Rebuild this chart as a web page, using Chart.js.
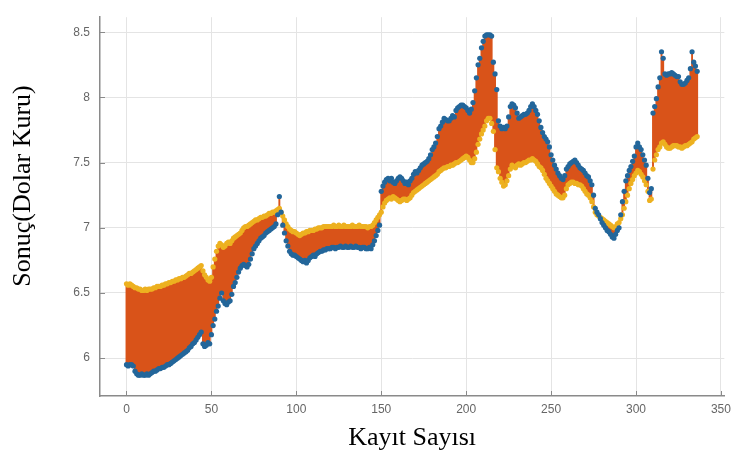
<!DOCTYPE html>
<html>
<head>
<meta charset="utf-8">
<script src="https://cdn.jsdelivr.net/npm/chart.js@4/dist/chart.umd.min.js"></script>
<style>
  html, body { margin: 0; padding: 0; background: #ffffff; }
  #wrap { width: 737px; height: 463px; }
</style>
</head>
<body>
<div id="wrap"><canvas id="c" width="737" height="463"></canvas></div>
<script>
// Actual values (blue markers), record 0..336
const actual = [
  5.95, 5.94, 5.95, 5.95, 5.94,
  5.90, 5.88, 5.87, 5.87, 5.88, 5.87, 5.87, 5.88, 5.87, 5.88,
  5.89, 5.90, 5.90, 5.91, 5.92, 5.92, 5.93, 5.93, 5.94, 5.95,
  5.95, 5.96, 5.97, 5.98, 5.99, 6.00, 6.01, 6.02, 6.03, 6.04,
  6.05, 6.06, 6.08, 6.09, 6.11, 6.12, 6.14, 6.16, 6.18, 6.20,
  6.11, 6.09, 6.10, 6.12, 6.11,
  6.18, 6.25, 6.30, 6.36, 6.40, 6.46, 6.50, 6.44, 6.42, 6.41,
  6.43, 6.44, 6.49, 6.55, 6.58, 6.62, 6.66, 6.69, 6.71, 6.72,
  6.71, 6.70, 6.72, 6.76, 6.80, 6.84, 6.86, 6.88, 6.90, 6.92,
  6.93, 6.94, 6.96, 6.97, 6.98, 6.99, 7.00, 7.01, 7.03, 7.10,
  7.24, 7.12, 7.02, 6.96, 6.90, 6.86, 6.82, 6.80, 6.79, 6.79,
  6.78, 6.77, 6.76, 6.75, 6.74, 6.75, 6.73, 6.75, 6.77, 6.78,
  6.79, 6.78, 6.80, 6.81, 6.82, 6.82, 6.83, 6.83, 6.84, 6.84,
  6.84, 6.85, 6.85, 6.84, 6.85, 6.85, 6.86, 6.85, 6.85, 6.86,
  6.85, 6.85, 6.86, 6.85, 6.85, 6.86, 6.85, 6.85, 6.84, 6.85,
  6.85, 6.84, 6.84, 6.85, 6.84, 6.87, 6.90, 6.94, 6.98, 7.02,
  7.28, 7.32, 7.35, 7.37, 7.38, 7.36, 7.38, 7.35, 7.34, 7.36,
  7.38, 7.39, 7.38, 7.36, 7.34, 7.35, 7.33, 7.36, 7.38, 7.41,
  7.43, 7.42, 7.44, 7.46, 7.48, 7.49, 7.50, 7.51, 7.53, 7.56,
  7.60, 7.62, 7.65, 7.70, 7.76, 7.78, 7.81, 7.84, 7.83, 7.82,
  7.82, 7.84, 7.86, 7.85, 7.90, 7.92, 7.93, 7.94, 7.94, 7.93,
  7.92, 7.90, 7.88, 7.91, 7.96, 8.05, 8.15, 8.25, 8.30, 8.38,
  8.43, 8.47, 8.48, 8.48, 8.48, 8.47, 8.27, 8.18, 8.06, 7.82,
  7.78, 7.76, 7.77, 7.76, 7.78, 7.85, 7.93, 7.95, 7.94, 7.92,
  7.88, 7.84, 7.85, 7.86, 7.87, 7.87, 7.88, 7.90, 7.93, 7.95,
  7.93, 7.90, 7.87, 7.82, 7.77, 7.73, 7.70, 7.68, 7.66, 7.62,
  7.56, 7.52, 7.48, 7.45, 7.42, 7.40, 7.38, 7.37, 7.40, 7.45,
  7.47, 7.49, 7.50, 7.51, 7.52, 7.50, 7.48, 7.46, 7.45, 7.44,
  7.42, 7.40, 7.39, 7.36, 7.33, 7.25, 7.15, 7.12, 7.10, 7.07,
  7.04, 7.02, 7.00, 6.98, 6.97, 6.95, 6.93, 6.92, 6.95, 6.98,
  7.00, 7.10, 7.20, 7.28, 7.36, 7.40, 7.44, 7.47, 7.51, 7.55,
  7.62, 7.65, 7.62, 7.60, 7.56, 7.52, 7.48, 7.38, 7.27, 7.30,
  7.88, 7.93, 7.99, 8.08, 8.15, 8.35, 8.30, 8.18, 8.17, 8.18,
  8.18, 8.19, 8.18, 8.17, 8.16, 8.16, 8.12, 8.10, 8.10, 8.11,
  8.13, 8.15, 8.22, 8.35, 8.27, 8.24, 8.20
];

// Predicted values (yellow markers), record 0..336
const predicted = [
  6.57, 6.56, 6.57, 6.56, 6.55,
  6.54, 6.54, 6.53, 6.53, 6.52, 6.52, 6.53, 6.52, 6.53, 6.53,
  6.53, 6.54, 6.54, 6.55, 6.55, 6.55, 6.56, 6.56, 6.57, 6.57,
  6.58, 6.58, 6.59, 6.59, 6.60, 6.60, 6.61, 6.61, 6.62, 6.62,
  6.63, 6.64, 6.65, 6.65, 6.66, 6.67, 6.68, 6.69, 6.70, 6.71,
  6.67, 6.64, 6.62, 6.60, 6.59,
  6.62, 6.70, 6.76, 6.82, 6.86, 6.88, 6.87, 6.85, 6.86, 6.88,
  6.89, 6.88, 6.90, 6.92, 6.93, 6.94, 6.95, 6.96, 6.98, 7.00,
  7.01, 7.01, 7.02, 7.03, 7.04, 7.05, 7.06, 7.06, 7.07, 7.08,
  7.08, 7.09, 7.09, 7.10, 7.11, 7.11, 7.12, 7.12, 7.13, 7.14,
  7.15, 7.12, 7.09, 7.06, 7.03, 7.01, 6.99, 6.98, 6.97, 6.97,
  6.96, 6.95, 6.94, 6.95, 6.96, 6.96, 6.97, 6.97, 6.98, 6.98,
  6.98, 6.99, 6.99, 7.00, 7.00, 7.00, 7.01, 7.01, 7.01, 7.01,
  7.01, 7.01, 7.02, 7.01, 7.01, 7.02, 7.01, 7.01, 7.02, 7.01,
  7.01, 7.01, 7.01, 7.02, 7.01, 7.01, 7.01, 7.02, 7.01, 7.01,
  7.01, 7.01, 7.00, 7.01, 7.01, 7.02, 7.04, 7.06, 7.08, 7.10,
  7.12, 7.16, 7.19, 7.21, 7.22, 7.23, 7.22, 7.24, 7.23, 7.22,
  7.21, 7.20, 7.21, 7.22, 7.22, 7.21, 7.22, 7.23, 7.25, 7.27,
  7.28, 7.29, 7.30, 7.31, 7.32, 7.33, 7.34, 7.35, 7.36, 7.37,
  7.38, 7.39, 7.40, 7.41, 7.43, 7.44, 7.45, 7.46, 7.46, 7.47,
  7.47, 7.48, 7.48, 7.49, 7.50, 7.50, 7.51, 7.52, 7.53, 7.54,
  7.55, 7.54, 7.52, 7.50, 7.50, 7.53, 7.58, 7.64, 7.68, 7.72,
  7.75, 7.78, 7.82, 7.84, 7.84, 7.80, 7.74, 7.60, 7.46, 7.43,
  7.38, 7.35, 7.32, 7.33, 7.36, 7.40, 7.45, 7.48, 7.47, 7.46,
  7.48, 7.49, 7.48, 7.49, 7.50, 7.50, 7.51, 7.52, 7.52, 7.53,
  7.52, 7.51, 7.49, 7.47, 7.46, 7.44, 7.41, 7.38, 7.36, 7.34,
  7.32, 7.30, 7.28, 7.26, 7.25, 7.24, 7.23, 7.23, 7.25, 7.30,
  7.33, 7.34, 7.35, 7.35, 7.34, 7.34, 7.33, 7.33, 7.32, 7.30,
  7.28, 7.26, 7.25, 7.23, 7.20, 7.16, 7.12, 7.10, 7.09, 7.08,
  7.07, 7.06, 7.05, 7.04, 7.03, 7.02, 7.01, 7.00, 7.01, 7.03,
  7.04, 7.07, 7.10, 7.15, 7.20, 7.25, 7.30, 7.34, 7.37, 7.40,
  7.42, 7.44, 7.43, 7.41, 7.39, 7.36, 7.33, 7.28, 7.21, 7.22,
  7.45, 7.52, 7.56, 7.60, 7.62, 7.65, 7.66, 7.64, 7.62, 7.61,
  7.61, 7.62, 7.63, 7.63, 7.63, 7.62, 7.62, 7.61, 7.62, 7.63,
  7.63, 7.64, 7.65, 7.66, 7.68, 7.69, 7.70
];

const xTickValues = [0, 50, 100, 150, 200, 250, 300, 350];
const yTickValues = [6, 6.5, 7, 7.5, 8, 8.5];
const xTitle = 'Kayıt Sayısı';
const yTitle = 'Sonuç(Dolar Kuru)';

// Build datasets from the arrays
const actualPts = actual.map((v, i) => ({ x: i, y: v }));
const predictedPts = predicted.map((v, i) => ({ x: i, y: v }));
const errorSegments = [];
actual.forEach((v, i) => {
  errorSegments.push({ x: i, y: v }, { x: i, y: predicted[i] }, { x: i, y: null });
});

const tickFont = { family: 'Liberation Sans, Arial, sans-serif', size: 12 };
const titleFont = { family: 'Liberation Serif, Times New Roman, serif', size: 26 };

// Inward tick marks (MATLAB style) and the rotated y-axis title
const decorations = {
  id: 'decorations',
  afterDraw(chart) {
    const ctx = chart.ctx;
    const xs = chart.scales.x, ys = chart.scales.y;
    const area = chart.chartArea;
    ctx.save();
    ctx.strokeStyle = '#8a8a8a';
    ctx.lineWidth = 1;
    ctx.beginPath();
    xTickValues.forEach(v => {
      const px = Math.round(xs.getPixelForValue(v)) + 0.5;
      ctx.moveTo(px, area.bottom);
      ctx.lineTo(px, area.bottom - 5);
    });
    yTickValues.forEach(v => {
      const py = Math.round(ys.getPixelForValue(v)) + 0.5;
      ctx.moveTo(area.left, py);
      ctx.lineTo(area.left + 5, py);
    });
    ctx.stroke();
    ctx.translate(23, 186);
    ctx.rotate(-Math.PI / 2);
    ctx.fillStyle = '#000000';
    ctx.font = '26px "Liberation Serif", "Times New Roman", serif';
    ctx.textAlign = 'center';
    ctx.textBaseline = 'middle';
    ctx.fillText(yTitle, 0, 0);
    ctx.restore();
  }
};

new Chart(document.getElementById('c'), {
  type: 'line',
  data: {
    datasets: [
      {
        label: 'Hata',
        data: errorSegments,
        borderColor: '#D95319',
        borderWidth: 1.9,
        pointRadius: 0,
        spanGaps: false,
        fill: false,
        tension: 0,
        order: 3
      },
      {
        label: 'Tahmin',
        data: predictedPts,
        showLine: false,
        pointRadius: 2.6,
        pointBackgroundColor: '#EDB120',
        pointBorderWidth: 0,
        order: 2
      },
      {
        label: 'Gerçek',
        data: actualPts,
        showLine: false,
        pointRadius: 2.6,
        pointBackgroundColor: '#23669a',
        pointBorderWidth: 0,
        order: 1
      }
    ]
  },
  options: {
    responsive: false,
    animation: false,
    devicePixelRatio: 1,
    layout: { padding: { top: 1, right: 8, bottom: 0, left: 0 } },
    plugins: { legend: { display: false }, tooltip: { enabled: false } },
    scales: {
      x: {
        type: 'linear',
        min: -15.6,
        max: 352,
        afterFit: s => { s.height = 67; },
        afterBuildTicks: s => { s.ticks = xTickValues.map(v => ({ value: v })); },
        grid: { color: '#e4e4e4', lineWidth: 1, drawTicks: false },
        border: { color: '#8a8a8a', width: 1.5 },
        ticks: {
          font: tickFont, color: '#666666', padding: 6,
          maxRotation: 0, autoSkip: false,
          callback: v => String(v)
        },
        title: {
          display: true, text: xTitle, color: '#000000', font: titleFont,
          padding: { top: 0, bottom: 9 }
        }
      },
      y: {
        type: 'linear',
        min: 5.71,
        max: 8.615,
        afterFit: s => { s.width = 100; },
        afterBuildTicks: s => { s.ticks = yTickValues.map(v => ({ value: v })); },
        grid: { color: '#e4e4e4', lineWidth: 1, drawTicks: false },
        border: { color: '#8a8a8a', width: 1.5 },
        ticks: {
          font: tickFont, color: '#666666', padding: 10,
          autoSkip: false,
          callback: v => String(v)
        },
        title: { display: false }
      }
    }
  },
  plugins: [decorations]
});
</script>
</body>
</html>
